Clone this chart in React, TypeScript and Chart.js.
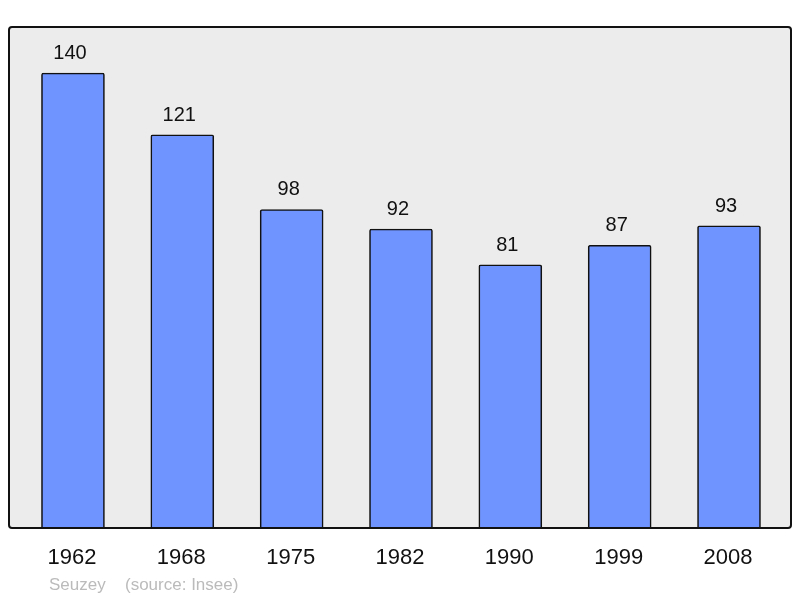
import React, { useEffect, useRef } from "react";
import { Chart, registerables } from "chart.js";

Chart.register(...registerables);

const years = ["1962", "1968", "1975", "1982", "1990", "1999", "2008"];
const population = [140, 121, 98, 92, 81, 87, 93];
const commune = "Seuzey";
const source = "(source: Insee)";

const FONT = "'Liberation Sans', Arial, sans-serif";

const framePlugin = {
  id: "frame",
  beforeDatasetsDraw(chart: any) {
    const { ctx, chartArea: a } = chart;
    ctx.save();
    ctx.beginPath();
    ctx.roundRect(a.left, a.top, a.right - a.left, a.bottom - a.top, 3);
    ctx.fillStyle = "#ececec";
    ctx.fill();
    ctx.restore();
  },
  afterDatasetsDraw(chart: any) {
    const { ctx, chartArea: a, scales } = chart;
    ctx.save();
    ctx.beginPath();
    ctx.roundRect(a.left, a.top, a.right - a.left, a.bottom - a.top, 3);
    ctx.lineWidth = 2;
    ctx.strokeStyle = "#111";
    ctx.stroke();

    const meta = chart.getDatasetMeta(0);
    ctx.fillStyle = "#111";
    ctx.textAlign = "center";
    ctx.textBaseline = "alphabetic";
    ctx.font = `20px ${FONT}`;
    meta.data.forEach((bar: any, i: number) => {
      ctx.fillText(String(population[i]), bar.x - 3, bar.y - 14);
    });
    ctx.font = `22px ${FONT}`;
    years.forEach((y, i) => {
      ctx.fillText(y, scales.x.getPixelForValue(i) - 1, 564);
    });
    ctx.fillStyle = "#bbbbbb";
    ctx.font = `17px ${FONT}`;
    ctx.textAlign = "left";
    ctx.fillText(commune, 49, 590);
    ctx.fillText(source, 125, 590);
    ctx.restore();
  },
};

export default function App() {
  const ref = useRef<HTMLCanvasElement>(null);
  useEffect(() => {
    if (!ref.current) return;
    const chart = new Chart(ref.current, {
      type: "bar",
      data: {
        datasets: [
          {
            data: population.map((v, i) => ({ x: i, y: v })),
            backgroundColor: "#7094ff",
            borderColor: "#111",
            borderWidth: 1.6,
            borderRadius: 2,
            barThickness: 63,
          },
        ],
      },
      options: {
        animation: false,
        responsive: false,
        devicePixelRatio: 1,
        layout: { padding: { left: 9, right: 9, top: 27, bottom: 70 } },
        plugins: { legend: { display: false }, tooltip: { enabled: false } },
        scales: {
          x: { type: "linear", display: false, offset: false, bounds: "ticks", min: -0.585, max: 6.567, grid: { offset: false } },
          y: { display: false, min: 0, max: 154.15 },
        },
      },
      plugins: [framePlugin],
    });
    return () => chart.destroy();
  }, []);
  return (
    <div style={{ position: "absolute", left: 0, top: 0, width: 800, height: 598, background: "#fff" }}>
      <canvas ref={ref} width={800} height={598} />
    </div>
  );
}
